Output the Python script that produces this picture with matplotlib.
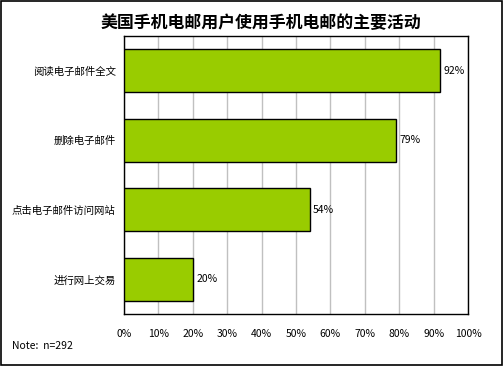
import matplotlib.pyplot as plt

plt.rcParams['font.family'] = ['Noto Sans CJK SC', 'DejaVu Sans']

categorias = ['阅读电子邮件全文', '删除电子邮件', '点击电子邮件访问网站', '进行网上交易']
valores = [92, 79, 54, 20]
ticks = list(range(0, 101, 10))
titulo = '美国手机电邮用户使用手机电邮的主要活动'
nota = 'Note:  n=292'

fig = plt.figure(figsize=(5.03, 3.68), dpi=100)
ax = fig.add_axes([124/503, 1 - 314/368, (468-124)/503, (314-36)/368])

pos = list(range(len(categorias)))
ax.barh(pos, valores, height=0.62, color='#99cc00', edgecolor='black', linewidth=1, zorder=3)
for p, v in zip(pos, valores):
    ax.text(v + 1, p, str(v) + '%', va='center', ha='left', fontsize=7.5, zorder=4)

ax.set_ylim(len(categorias) - 0.5, -0.5)
ax.set_xlim(0, 100)
ax.set_yticks(pos)
ax.set_yticklabels(categorias, fontsize=7.5)
ax.set_xticks(ticks)
ax.set_xticklabels([str(t) + '%' for t in ticks], fontsize=7.5)
ax.tick_params(length=0)
ax.tick_params(axis='x', pad=11)
ax.tick_params(axis='y', pad=6)
ax.xaxis.grid(True, color='#c0c0c0', linewidth=1, zorder=0)
for s in ax.spines.values():
    s.set_color('black')
    s.set_linewidth(1)

fig.text(261/503, 1 - 23/368, titulo, ha='center', va='center', fontsize=12.2, fontweight='bold')
fig.text(12/503, 1 - 346/368, nota, ha='left', va='center', fontsize=7.5)

# marco exterior
fig.patches.append(plt.Rectangle((0.5/503, 3/368), 501/503, 364.5/368, transform=fig.transFigure,
                                 fill=False, edgecolor='black', linewidth=1.2))

fig.savefig('out.png', dpi=100)
